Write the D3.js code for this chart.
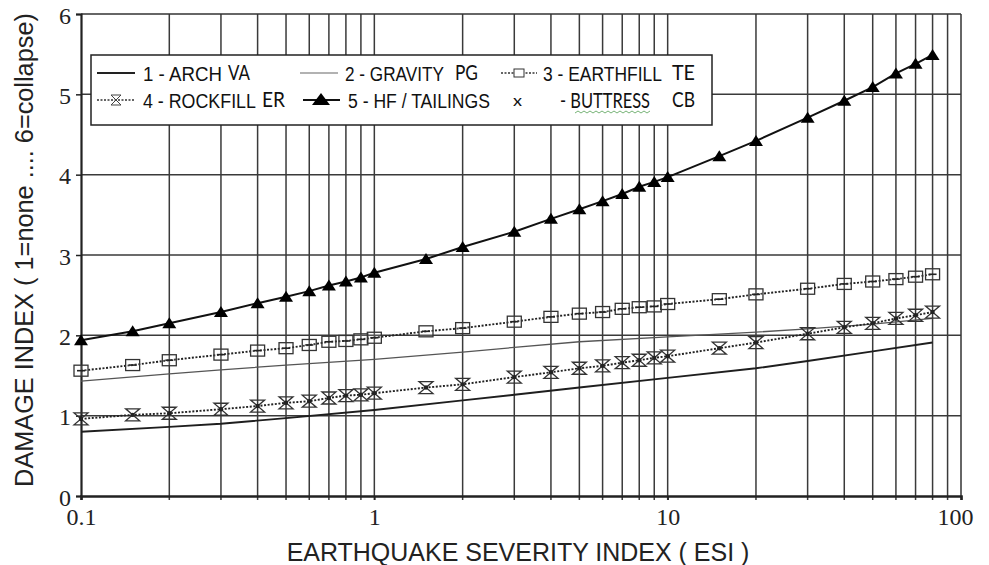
<!DOCTYPE html>
<html><head><meta charset="utf-8">
<script src="https://cdn.jsdelivr.net/npm/d3@7"></script>
<style>
html,body{margin:0;padding:0;background:#fff;}
svg{display:block;}
</style></head>
<body>
<svg id="chart" width="989" height="565"></svg>
<script>
// ---- data ----
const esiMarked = [0.1,0.15,0.2,0.3,0.4,0.5,0.6,0.7,0.8,0.9,1,1.5,2,3,4,5,6,7,8,9,10,15,20,30,40,50,60,70,80];
const hfTailings = [1.94,2.05,2.15,2.29,2.40,2.48,2.55,2.62,2.67,2.72,2.78,2.95,3.10,3.29,3.45,3.57,3.67,3.76,3.85,3.91,3.97,4.23,4.42,4.71,4.92,5.09,5.26,5.38,5.49];
const earthfill  = [1.56,1.63,1.69,1.76,1.81,1.84,1.88,1.92,1.93,1.95,1.97,2.05,2.09,2.17,2.23,2.27,2.29,2.33,2.35,2.36,2.39,2.45,2.51,2.58,2.64,2.67,2.70,2.73,2.76];
const rockfill   = [0.96,1.01,1.03,1.08,1.12,1.16,1.18,1.22,1.25,1.26,1.28,1.35,1.39,1.48,1.54,1.59,1.62,1.66,1.69,1.72,1.74,1.84,1.91,2.02,2.10,2.15,2.21,2.25,2.29];
const esiLine = [0.1,0.2,0.3,0.5,1,2,3,5,10,20,30,50,80];
const arch    = [0.80,0.86,0.90,0.97,1.07,1.19,1.26,1.35,1.47,1.59,1.68,1.80,1.91];
const gravity = [1.43,1.52,1.57,1.63,1.70,1.79,1.85,1.92,1.98,2.04,2.08,2.14,2.21];
const yTicks = [0,1,2,3,4,5,6];
const xTickLabels = [0.1,1,10,100];
const xGrid = [0.2,0.3,0.4,0.5,0.6,0.7,0.8,0.9,1,2,3,4,5,6,7,8,9,10,20,30,40,50,60,70,80,90];
const legendRow1 = [{label:"1 - ARCH",tag:"VA"},{label:"2 - GRAVITY",tag:"PG"},{label:"3 - EARTHFILL",tag:"TE"}];
const legendRow2 = [{label:"4 - ROCKFILL",tag:"ER"},{label:"5 - HF / TAILINGS",tag:"x"},{label:"- BUTTRESS",tag:"CB"}];
const xTitle = "EARTHQUAKE SEVERITY INDEX ( ESI )";
const yTitle = "DAMAGE INDEX ( 1=none .... 6=collapse)";

// ---- layout ----
const svg = d3.select("#chart");
const L = 81, R = 961, T = 14, B = 496;
const x = d3.scaleLog().domain([0.1,100]).range([L,R]);
const y = d3.scaleLinear().domain([0,6]).range([B,T]);
const gridCol = "#3a3a3a";
const narrow = "'Liberation Sans Narrow','Arial Narrow','Liberation Sans',Arial,sans-serif";
const serif = "'Liberation Serif','DejaVu Serif','Noto Serif',serif";
const calibri = "Lato,'Open Sans',sans-serif";

// helper: text squeezed horizontally to a target width (anchor: start|middle)
function fitText(parent, str, px, py, width, opts){
  const o = Object.assign({font:narrow,size:21,anchor:"start",rotate:0,fill:"#111"},opts||{});
  const t = parent.append("text").attr("font-family",o.font).attr("font-size",o.size)
    .attr("fill",o.fill).attr("text-anchor",o.anchor).text(str);
  const nat = t.node().getComputedTextLength();
  const s = nat>0 ? width/nat : 1;
  t.attr("transform",`translate(${px},${py}) rotate(${o.rotate}) scale(${s},1)`);
  return t;
}

// grid
const g = svg.append("g");
g.selectAll("line.vg").data(xGrid).join("line")
  .attr("x1",d=>x(d)).attr("x2",d=>x(d)).attr("y1",T).attr("y2",B+4)
  .attr("stroke",gridCol).attr("stroke-width",1.5);
g.selectAll("line.hg").data(yTicks.filter(d=>d>0&&d<6)).join("line")
  .attr("x1",L).attr("x2",R).attr("y1",d=>y(d)).attr("y2",d=>y(d))
  .attr("stroke",gridCol).attr("stroke-width",1.5);
// frame
g.append("line").attr("x1",L).attr("x2",R).attr("y1",T).attr("y2",T).attr("stroke","#333").attr("stroke-width",1.5);
g.append("line").attr("x1",R).attr("x2",R).attr("y1",T).attr("y2",B).attr("stroke","#333").attr("stroke-width",1.5);

// axes
const yAxis = d3.axisLeft(y).tickValues(yTicks).tickSize(5).tickPadding(5).tickFormat(d3.format("d"));
const ya = svg.append("g").attr("transform",`translate(${L},0)`).call(yAxis);
ya.select(".domain").attr("stroke","#222").attr("stroke-width",2.2);
ya.selectAll(".tick line").attr("stroke","#222").attr("stroke-width",1.5);
ya.selectAll(".tick text").attr("font-family",serif).attr("font-size",24).attr("fill","#222").attr("dy","0.38em");

const xAxis = d3.axisBottom(x).tickValues(xTickLabels).tickSize(4).tickPadding(8).tickFormat(d=>d>=1?d3.format("d")(d):"0.1");
const xa = svg.append("g").attr("transform",`translate(0,${B})`).call(xAxis);
xa.select(".domain").attr("stroke","#222").attr("stroke-width",2.6);
xa.selectAll(".tick line").attr("stroke","#222").attr("stroke-width",1.5);
xa.selectAll(".tick text").attr("font-family",serif).attr("font-size",24).attr("fill","#222")
  .attr("dx",d=>d===100?-6:0);

// titles
fitText(svg, xTitle, 518, 561, 463, {size:25, anchor:"middle", fill:"#222"});
fitText(svg, yTitle, 33, 250, 474, {size:25, anchor:"middle", rotate:-90, fill:"#222"});

// series
const lineGen = d3.line().x(d=>x(d[0])).y(d=>y(d[1]));
const zipM = arr => esiMarked.map((e,i)=>[e,arr[i]]);
const zipL = arr => esiLine.map((e,i)=>[e,arr[i]]);

svg.append("path").datum(zipL(arch)).attr("d",lineGen).attr("fill","none").attr("stroke","#1e1e1e").attr("stroke-width",1.9);
svg.append("path").datum(zipL(gravity)).attr("d",lineGen).attr("fill","none").attr("stroke","#555").attr("stroke-width",1.3);
svg.append("path").datum(zipM(earthfill)).attr("d",lineGen).attr("fill","none").attr("stroke","#222").attr("stroke-width",1.9).attr("stroke-dasharray","2,1.6");
svg.append("path").datum(zipM(rockfill)).attr("d",lineGen).attr("fill","none").attr("stroke","#222").attr("stroke-width",1.9).attr("stroke-dasharray","2,1.6");
svg.append("path").datum(zipM(hfTailings)).attr("d",lineGen).attr("fill","none").attr("stroke","#111").attr("stroke-width",2);

function squareMark(sel){
  sel.append("rect").attr("x",-7).attr("y",-5.5).attr("width",14).attr("height",11)
    .attr("fill","#fff").attr("fill-opacity",0.15).attr("stroke","#333").attr("stroke-width",1.3);
  sel.append("line").attr("x1",-4).attr("x2",4).attr("y1",0).attr("y2",0).attr("stroke","#222").attr("stroke-width",1.6);
}
function hourglass(sel){
  sel.append("path").attr("d","M-7,-6 L7,-6 L-7,6 L7,6 Z").attr("fill","none").attr("stroke","#333").attr("stroke-width",1.3);
  sel.append("circle").attr("r",2.2).attr("fill","#222");
}
function tri(sel){
  sel.append("path").attr("d","M0,-6 L7,5 L-7,5 Z").attr("fill","#000");
}
svg.append("g").selectAll("g").data(zipM(earthfill)).join("g")
  .attr("transform",d=>`translate(${x(d[0])},${y(d[1])})`).call(squareMark);
svg.append("g").selectAll("g").data(zipM(rockfill)).join("g")
  .attr("transform",d=>`translate(${x(d[0])},${y(d[1])})`).call(hourglass);
svg.append("g").selectAll("g").data(zipM(hfTailings)).join("g")
  .attr("transform",d=>`translate(${x(d[0])},${y(d[1])})`).call(tri);

// legend
const lg = svg.append("g");
lg.append("rect").attr("x",91).attr("y",55).attr("width",621).attr("height",70)
  .attr("fill","#fff").attr("stroke","#222").attr("stroke-width",1.5);
const rowY = [73,100];
// row1 samples
lg.append("line").attr("x1",97).attr("x2",135).attr("y1",rowY[0]).attr("y2",rowY[0]).attr("stroke","#222").attr("stroke-width",1.8);
lg.append("line").attr("x1",300).attr("x2",338).attr("y1",rowY[0]).attr("y2",rowY[0]).attr("stroke","#666").attr("stroke-width",1.2);
lg.append("line").attr("x1",501).attr("x2",537).attr("y1",rowY[0]).attr("y2",rowY[0]).attr("stroke","#333").attr("stroke-width",1.4).attr("stroke-dasharray","2,1.5");
lg.append("g").attr("transform",`translate(519,${rowY[0]})`).call(g2=>{
  g2.append("rect").attr("x",-5).attr("y",-4).attr("width",10).attr("height",8).attr("fill","#fff").attr("stroke","#333").attr("stroke-width",1);
});
// row2 samples
lg.append("line").attr("x1",97).attr("x2",135).attr("y1",rowY[1]).attr("y2",rowY[1]).attr("stroke","#333").attr("stroke-width",1.4).attr("stroke-dasharray","2,1.5");
lg.append("g").attr("transform",`translate(116,${rowY[1]})`).call(g2=>{
  g2.append("path").attr("d","M-5,-5 L5,-5 L-5,5 L5,5 Z").attr("fill","none").attr("stroke","#444").attr("stroke-width",1);
});
lg.append("line").attr("x1",303).attr("x2",340).attr("y1",rowY[1]).attr("y2",rowY[1]).attr("stroke","#111").attr("stroke-width",1.8);
lg.append("path").attr("transform",`translate(321,${rowY[1]})`).attr("d","M0,-7 L9,5 L-9,5 Z").attr("fill","#000");

const labelX1 = [143,345,543], labelW1 = [79,99,119];
const tagX1 = [228,455,672], tagW1 = [22,23,23];
const labelX2 = [143,348,560], labelW2 = [113,142,90];
const tagX2 = [262,513,672], tagW2 = [23,9,23];
legendRow1.forEach((d,i)=>{
  fitText(lg, d.label, labelX1[i], rowY[0]+8, labelW1[i], {size:21});
  fitText(lg, d.tag, tagX1[i], rowY[0]+7, tagW1[i], {size:21, font:calibri});
});
legendRow2.forEach((d,i)=>{
  fitText(lg, d.label, labelX2[i], rowY[1]+8, labelW2[i], {size:21, font: i===2?calibri:narrow});
  fitText(lg, d.tag, tagX2[i], rowY[1]+(i===1?6:7), tagW2[i], {size:i===1?16:21, font:calibri});
});
// spell-check squiggle under BUTTRESS
const sq = d3.range(575,651,3).map((v,i)=>[v, i%2?111:113]);
lg.append("path").attr("d",d3.line()(sq)).attr("fill","none").attr("stroke","#6a6").attr("stroke-width",0.9);
</script>
</body></html>
